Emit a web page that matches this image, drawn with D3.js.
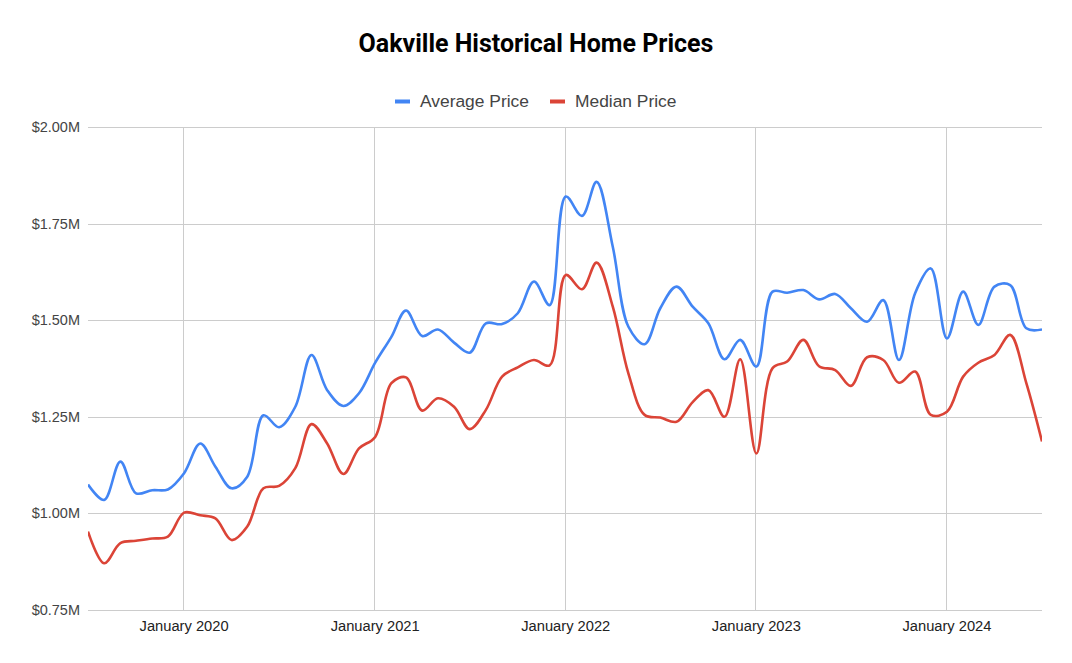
<!DOCTYPE html>
<html>
<head>
<meta charset="utf-8">
<script src="https://cdn.jsdelivr.net/npm/d3@7"></script>
<style>
  body { margin: 0; background: #fff; }
  svg { display: block; }
</style>
</head>
<body>
<svg id="chart" width="1072" height="663"></svg>
<script>
const startMonth = "2019-07";
const averagePrice = [
  1.075, 1.035, 1.134, 1.052, 1.060, 1.062, 1.104, 1.181, 1.121, 1.065,
  1.095, 1.254, 1.223, 1.276, 1.410, 1.319, 1.278, 1.311, 1.390, 1.457,
  1.525, 1.459, 1.476, 1.442, 1.416, 1.492, 1.490, 1.518, 1.600, 1.539,
  1.820, 1.770, 1.858, 1.690, 1.483, 1.438, 1.531, 1.587, 1.535, 1.492,
  1.399, 1.449, 1.380, 1.574, 1.571, 1.578, 1.554, 1.568, 1.531, 1.496,
  1.552, 1.397, 1.570, 1.634, 1.453, 1.574, 1.488, 1.587, 1.591, 1.479,
  1.476
];
const medianPrice = [
  0.953, 0.871, 0.923, 0.929, 0.935, 0.940, 1.002, 0.995, 0.987, 0.931,
  0.966, 1.065, 1.071, 1.117, 1.231, 1.181, 1.102, 1.168, 1.198, 1.337,
  1.352, 1.266, 1.298, 1.276, 1.218, 1.268, 1.354, 1.378, 1.397, 1.383,
  1.617, 1.580, 1.649, 1.535, 1.362, 1.255, 1.248, 1.237, 1.288, 1.319,
  1.250, 1.399, 1.155, 1.376, 1.393, 1.449, 1.381, 1.371, 1.330, 1.404,
  1.397, 1.338, 1.367, 1.255, 1.263, 1.354, 1.390, 1.410, 1.462, 1.337,
  1.186
];
const yTicks = [0.75, 1.00, 1.25, 1.50, 1.75, 2.00];
const xTickLabels = ["January 2020", "January 2021", "January 2022", "January 2023", "January 2024"];
const xTickDates = ["2020-01", "2021-01", "2022-01", "2023-01", "2024-01"];
const seriesNames = ["Average Price", "Median Price"];
const seriesColors = ["#4285F4", "#DB4437"];

const parse = d3.timeParse("%Y-%m");
const start = parse(startMonth);
const dates = averagePrice.map((_, i) => d3.timeMonth.offset(start, i));

const margin = { left: 88, right: 30, top: 127, bottom: 53 };
const W = 1072, H = 663;
const svg = d3.select("#chart");

const x = d3.scaleTime()
  .domain([dates[0], dates[dates.length - 1]])
  .range([margin.left, W - margin.right]);
const y = d3.scaleLinear()
  .domain([0.75, 2.00])
  .range([H - margin.bottom, margin.top]);

// gridlines
const g = svg.append("g");
g.selectAll("line.h").data(yTicks).join("line")
  .attr("x1", margin.left).attr("x2", W - margin.right)
  .attr("y1", d => Math.round(y(d)) + 0.5).attr("y2", d => Math.round(y(d)) + 0.5)
  .attr("stroke", "#cccccc").attr("stroke-width", 1);
g.selectAll("line.v").data(xTickDates).join("line")
  .attr("x1", d => Math.round(x(parse(d))) - 0.5).attr("x2", d => Math.round(x(parse(d))) - 0.5)
  .attr("y1", margin.top).attr("y2", H - margin.bottom)
  .attr("stroke", "#cccccc").attr("stroke-width", 1);

// y labels
svg.append("g").selectAll("text").data(yTicks).join("text")
  .attr("x", margin.left - 8).attr("y", d => y(d) + 5)
  .attr("text-anchor", "end")
  .attr("font-family", "Liberation Sans, Arial, sans-serif")
  .attr("font-size", 14.5).attr("fill", "#444")
  .text(d => "$" + d.toFixed(2) + "M");

// x labels
svg.append("g").selectAll("text").data(xTickDates).join("text")
  .attr("x", d => x(parse(d))).attr("y", H - margin.bottom + 21)
  .attr("text-anchor", "middle")
  .attr("font-family", "Liberation Sans, Arial, sans-serif")
  .attr("font-size", 14.7).attr("fill", "#222")
  .text((d, i) => xTickLabels[i]);

// lines
const line = d3.line()
  .x((d, i) => x(dates[i]))
  .y(d => y(d))
  .curve(d3.curveCatmullRom.alpha(0.5));
const clip = svg.append("clipPath").attr("id", "clip").append("rect")
  .attr("x", margin.left).attr("y", margin.top - 10)
  .attr("width", W - margin.right - margin.left).attr("height", H - margin.bottom - margin.top + 20);
[averagePrice, medianPrice].forEach((s, k) => {
  svg.append("path").datum(s)
    .attr("d", line)
    .attr("fill", "none")
    .attr("stroke", seriesColors[k])
    .attr("stroke-width", 2.6)
    .attr("stroke-linejoin", "round")
    .attr("clip-path", "url(#clip)");
});

// title
svg.append("text")
  .attr("x", 536).attr("y", 52)
  .attr("text-anchor", "middle")
  .attr("font-family", "Roboto, sans-serif")
  .attr("font-weight", "bold")
  .attr("font-size", 25)
  .attr("fill", "#000")
  .text("Oakville Historical Home Prices");

// legend
const legendItems = [
  { icon: 395, text: 420 },
  { icon: 550, text: 575 }
];
const lg = svg.append("g");
seriesNames.forEach((name, k) => {
  lg.append("rect")
    .attr("x", legendItems[k].icon).attr("y", 99.5)
    .attr("width", 15).attr("height", 4)
    .attr("fill", seriesColors[k]);
  lg.append("text")
    .attr("x", legendItems[k].text).attr("y", 107)
    .attr("font-family", "Liberation Sans, Arial, sans-serif")
    .attr("font-size", 17.4).attr("fill", "#444")
    .text(name);
});
</script>
</body>
</html>
